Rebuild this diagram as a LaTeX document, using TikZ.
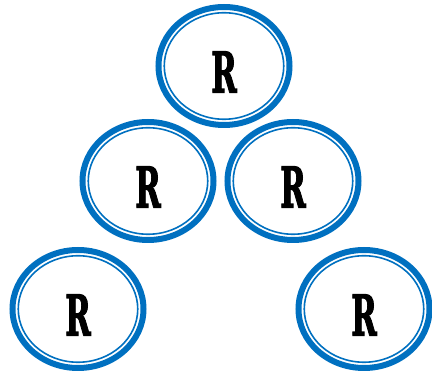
\documentclass[tikz,border=0pt]{standalone}
\usepackage{fontspec}
\usepackage{graphicx}
\usepackage{tikz}
\usetikzlibrary{shapes.geometric}
\newfontfamily\slabfont[BoldFeatures={FakeBold=2.5}]{DejaVu Serif}
\definecolor{ringblue}{RGB}{0,112,192}
\tikzset{
  ring/.style={ellipse, draw=ringblue, line width=6pt, minimum width=131pt, minimum height=118pt, inner sep=0pt},
  inring/.style={ellipse, draw=ringblue, line width=1.6pt, minimum width=119.5pt, minimum height=106.5pt, inner sep=0pt},
  letter/.style={font=\slabfont\bfseries\fontsize{56}{56}\selectfont, inner sep=0pt, yshift=-6pt},
}

\begin{document}
\begin{tikzpicture}[x=1pt,y=1pt]
  \useasboundingbox (0,0) rectangle (432,375);
  % outer rings
  \node[ring] (top) at (224,309) {};
  \node[ring] (midl) at (148,194) {};
  \node[ring] (midr) at (293,194) {};
  \node[ring] (botl) at (78,66) {};
  \node[ring] (botr) at (364,66) {};
  % inner rings
  \node[inring] (top-in) at (top.center) {};
  \node[inring] (midl-in) at (midl.center) {};
  \node[inring] (midr-in) at (midr.center) {};
  \node[inring] (botl-in) at (botl.center) {};
  \node[inring] (botr-in) at (botr.center) {};
  % letters
  \node[letter] (top-r) at (top.center) {\scalebox{0.55}[1]{R}};
  \node[letter] (midl-r) at (midl.center) {\scalebox{0.55}[1]{R}};
  \node[letter] (midr-r) at (midr.center) {\scalebox{0.55}[1]{R}};
  \node[letter] (botl-r) at (botl.center) {\scalebox{0.55}[1]{R}};
  \node[letter] (botr-r) at (botr.center) {\scalebox{0.55}[1]{R}};
\end{tikzpicture}
\end{document}
